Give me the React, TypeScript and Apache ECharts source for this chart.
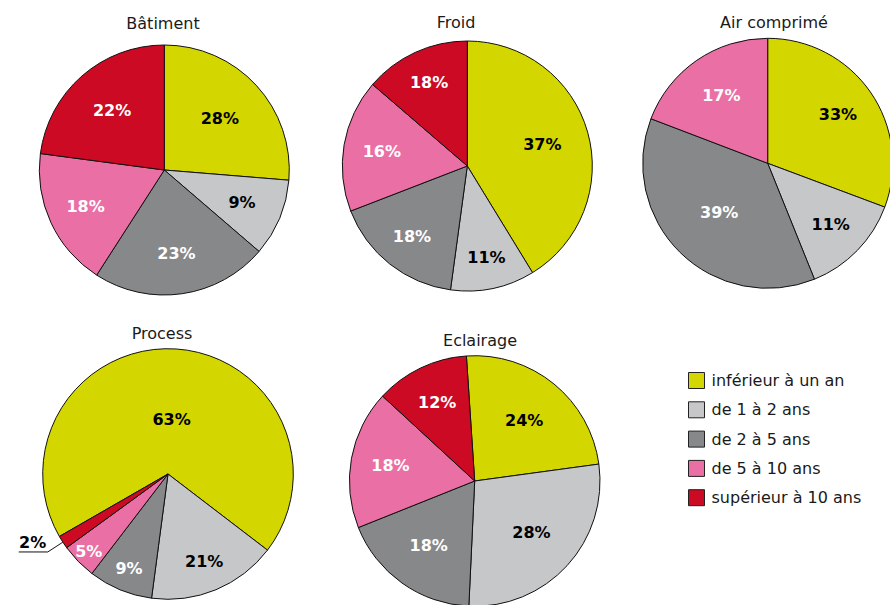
import React, { useEffect, useRef } from "react";
import * as echarts from "echarts";

// Legend categories (slice order, clockwise)
const categories = [
  "inférieur à un an",
  "de 1 à 2 ans",
  "de 2 à 5 ans",
  "de 5 à 10 ans",
  "supérieur à 10 ans",
];

const pieTitles = ["Bâtiment", "Froid", "Air comprimé", "Process", "Eclairage"];

// Printed percentages (labels)
const batimentLabels = [28, 9, 23, 18, 22];
const froidLabels = [37, 11, 18, 16, 18];
const airLabels = [33, 11, 39, 17, 0];
const processLabels = [63, 21, 9, 5, 2];
const eclairageLabels = [24, 28, 18, 18, 12];

// Slice shares as drawn in the picture
const batimentShares = [26.3, 10.0, 22.8, 18.0, 22.9];
const froidShares = [41.3, 10.9, 17.0, 17.2, 13.7];
const airShares = [30.7, 13.2, 36.9, 19.2, 0];
const processShares = [68.7, 16.7, 8.3, 4.6, 1.7];
const eclairageShares = [23.9, 27.9, 18.2, 17.9, 12.1];

const colors = ["#d4d600", "#c6c7c9", "#87888a", "#ea6fa4", "#cc0a23"];
const labelColors = ["#000000", "#000000", "#ffffff", "#ffffff", "#ffffff"];
const FONT = "DejaVu Sans";

const pies = [
  { title: pieTitles[0], shares: batimentShares, labels: batimentLabels },
  { title: pieTitles[1], shares: froidShares, labels: froidLabels },
  { title: pieTitles[2], shares: airShares, labels: airLabels },
  { title: pieTitles[3], shares: processShares, labels: processLabels },
  { title: pieTitles[4], shares: eclairageShares, labels: eclairageLabels },
];

// Layout (positions/sizes only)
const layouts: any[] = [
  { center: [164.3, 170], r: 125, start: 90, titleX: 163, titleY: 23, labelR: [0.58, 0.65, 0.65, 0.67, 0.61] },
  { center: [467.3, 166], r: 125, start: 90, titleX: 456, titleY: 22, labelR: [0.6, 0.72, 0.69, 0.67, 0.71] },
  { center: [767.7, 163.3], r: 125, start: 90, titleX: 774, titleY: 22, labelR: [0.66, 0.68, 0.53, 0.63, 0.63] },
  { center: [168, 474], r: 125.3, start: 209.9, titleX: 162, titleY: 333, labelR: [0.41, 0.73, 0.79, 0.86, "outside"] },
  { center: [474.7, 481], r: 125.3, start: 93.8, titleX: 480, titleY: 340, labelR: [0.6, 0.59, 0.61, 0.66, 0.67] },
];

function buildOption() {
  const series: any[] = [];
  const titles: any[] = [];
  pies.forEach((p, pi) => {
    const L = layouts[pi];
    const items = categories
      .map((name, i) => ({ name, i, value: p.shares[i] }))
      .filter((d) => d.value > 0);

    titles.push({
      text: p.title,
      left: L.titleX,
      top: L.titleY,
      textAlign: "center",
      textVerticalAlign: "middle",
      padding: 0,
      textStyle: { fontFamily: FONT, fontSize: 16, fontWeight: "normal", color: "#1a1a1a" },
    });

    series.push({
      type: "pie",
      name: p.title,
      silent: true,
      center: L.center,
      radius: L.r,
      startAngle: L.start,
      clockwise: true,
      avoidLabelOverlap: false,
      label: { show: false },
      labelLine: { show: false },
      emphasis: { disabled: true },
      itemStyle: { borderColor: "#111111", borderWidth: 1 },
      data: items.map((d) => ({ name: d.name, value: d.value, itemStyle: { color: colors[d.i] } })),
    });

    items.forEach((target) => {
      const f = L.labelR[target.i];
      const outside = f === "outside";
      series.push({
        type: "pie",
        name: p.title + "-label-" + target.i,
        silent: true,
        z: 5,
        center: L.center,
        radius: outside ? L.r : 2 * f * L.r,
        startAngle: L.start,
        clockwise: true,
        avoidLabelOverlap: false,
        emphasis: { disabled: true },
        itemStyle: { color: "rgba(0,0,0,0)", borderWidth: 0 },
        label: {
          show: false,
          position: outside ? "outside" : "inside",
          distanceToLabelLine: outside ? -27.5 : 5,
        },
        labelLine: { show: false },
        data: items.map((d) => {
          const item: any = { name: d.name + " ", value: d.value };
          if (d.i === target.i) {
            const txt = p.labels[d.i] + "%";
            item.label = outside
              ? {
                  show: true,
                  position: "outside",
                  rotate: 0,
                  formatter: "{t|" + txt + "}\n{s| }",
                  distanceToLabelLine: -27.5,
                  rich: {
                    t: { fontFamily: FONT, fontWeight: "bold", fontSize: 16, color: "#000000", lineHeight: 18 },
                    s: { fontSize: 2, lineHeight: 18 },
                  },
                }
              : {
                  show: true,
                  position: "inside",
                  rotate: 0,
                  formatter: txt,
                  color: labelColors[d.i],
                  fontFamily: FONT,
                  fontWeight: "bold",
                  fontSize: 16,
                };
            if (outside) {
              item.labelLine = {
                show: true,
                length: 18,
                length2: 29,
                smooth: false,
                lineStyle: { color: "#111111", width: 1 },
              };
            }
          }
          return item;
        }),
      });
    });
  });

  return {
    animation: false,
    backgroundColor: "#ffffff",
    title: titles,
    legend: {
      data: categories,
      orient: "vertical",
      left: 688,
      top: 372,
      padding: 0,
      itemWidth: 16,
      itemHeight: 16,
      itemGap: 12.3,
      icon: "rect",
      selectedMode: false,
      itemStyle: { borderColor: "#222222", borderWidth: 1 },
      textStyle: { fontFamily: FONT, fontSize: 16, color: "#1a1a1a", padding: [0, 0, 0, 2] },
    },
    series,
  };
}

export default function App() {
  const ref = useRef<HTMLDivElement>(null);
  useEffect(() => {
    document.body.style.margin = "0";
    const chart = echarts.init(ref.current as HTMLDivElement, null, { renderer: "svg" });
    chart.setOption(buildOption() as any);
    return () => chart.dispose();
  }, []);
  return <div ref={ref} style={{ width: 890, height: 605 }} />;
}
